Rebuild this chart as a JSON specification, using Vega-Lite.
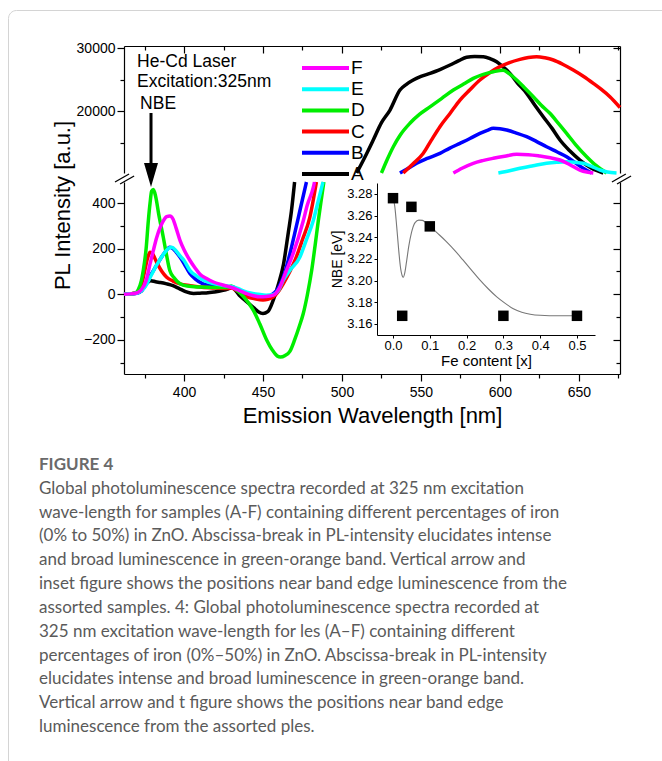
{
  "$schema": "https://vega.github.io/schema/vega-lite/v6.json",
  "width": 684,
  "height": 781,
  "autosize": {"type": "none"},
  "padding": {"left": 8, "top": 10, "right": -30, "bottom": -30},
  "background": "white",
  "config": {
    "view": {"stroke": "#d4d4d4", "cornerRadius": 8, "strokeWidth": 1},
    "font": "Liberation Sans",
    "axis": {"grid": false, "domainColor": "black", "tickColor": "black", "labelColor": "black", "titleColor": "black", "labelFont": "Liberation Sans", "titleFont": "Liberation Sans", "titleFontWeight": "normal", "labelFlush": false, "labelOverlap": false, "domainWidth": 1.2, "tickWidth": 1.2}
  },
  "datasets": {
    "low": [
      {"s":"A","wl":362,"v":0},{"s":"A","wl":366,"v":2},{"s":"A","wl":370,"v":6},{"s":"A","wl":373,"v":15},{"s":"A","wl":375,"v":35},{"s":"A","wl":377,"v":52},{"s":"A","wl":379,"v":60},{"s":"A","wl":382,"v":55},{"s":"A","wl":385,"v":52},{"s":"A","wl":389,"v":46},{"s":"A","wl":393,"v":38},{"s":"A","wl":397,"v":25},{"s":"A","wl":401,"v":12},{"s":"A","wl":406,"v":4},{"s":"A","wl":410,"v":5},{"s":"A","wl":414,"v":6},{"s":"A","wl":419,"v":10},{"s":"A","wl":424,"v":16},{"s":"A","wl":428,"v":24},{"s":"A","wl":430,"v":30},{"s":"A","wl":432,"v":22},{"s":"A","wl":435,"v":-4},{"s":"A","wl":438,"v":-22},{"s":"A","wl":441,"v":-40},{"s":"A","wl":444,"v":-58},{"s":"A","wl":447,"v":-76},{"s":"A","wl":450,"v":-84},{"s":"A","wl":453,"v":-76},{"s":"A","wl":456.5,"v":-25},{"s":"A","wl":460,"v":50},{"s":"A","wl":463,"v":133},{"s":"A","wl":466,"v":270},{"s":"A","wl":468,"v":365},{"s":"A","wl":470,"v":492},
      {"s":"B","wl":362,"v":0},{"s":"B","wl":366,"v":2},{"s":"B","wl":370,"v":5},{"s":"B","wl":373,"v":15},{"s":"B","wl":376,"v":45},{"s":"B","wl":379,"v":85},{"s":"B","wl":382,"v":120},{"s":"B","wl":385,"v":155},{"s":"B","wl":388,"v":185},{"s":"B","wl":391,"v":206},{"s":"B","wl":393,"v":200},{"s":"B","wl":395,"v":185},{"s":"B","wl":397.5,"v":162},{"s":"B","wl":400,"v":135},{"s":"B","wl":403.8,"v":90},{"s":"B","wl":407,"v":68},{"s":"B","wl":412,"v":46},{"s":"B","wl":417,"v":38},{"s":"B","wl":423,"v":32},{"s":"B","wl":428,"v":30},{"s":"B","wl":431,"v":32},{"s":"B","wl":434,"v":20},{"s":"B","wl":437,"v":5},{"s":"B","wl":440,"v":-4},{"s":"B","wl":444,"v":-12},{"s":"B","wl":448,"v":-19},{"s":"B","wl":452,"v":-14},{"s":"B","wl":456.5,"v":3},{"s":"B","wl":459,"v":20},{"s":"B","wl":461,"v":45},{"s":"B","wl":464,"v":100},{"s":"B","wl":467,"v":177},{"s":"B","wl":470,"v":265},{"s":"B","wl":473.3,"v":365},{"s":"B","wl":477.5,"v":492},
      {"s":"C","wl":362,"v":0},{"s":"C","wl":366,"v":2},{"s":"C","wl":370,"v":8},{"s":"C","wl":373,"v":40},{"s":"C","wl":375,"v":100},{"s":"C","wl":377,"v":160},{"s":"C","wl":378.5,"v":184},{"s":"C","wl":380,"v":178},{"s":"C","wl":382.7,"v":140},{"s":"C","wl":386,"v":100},{"s":"C","wl":389,"v":75},{"s":"C","wl":393,"v":58},{"s":"C","wl":397.5,"v":46},{"s":"C","wl":404,"v":38},{"s":"C","wl":410,"v":32},{"s":"C","wl":418,"v":28},{"s":"C","wl":427,"v":25},{"s":"C","wl":430,"v":28},{"s":"C","wl":433,"v":18},{"s":"C","wl":437,"v":0},{"s":"C","wl":440,"v":-11},{"s":"C","wl":445,"v":-20},{"s":"C","wl":450,"v":-25},{"s":"C","wl":453,"v":-22},{"s":"C","wl":456.5,"v":-11},{"s":"C","wl":460,"v":15},{"s":"C","wl":462.8,"v":46},{"s":"C","wl":467,"v":100},{"s":"C","wl":471,"v":162},{"s":"C","wl":475,"v":240},{"s":"C","wl":479.6,"v":336},{"s":"C","wl":483.8,"v":492},
      {"s":"D","wl":362,"v":0},{"s":"D","wl":366,"v":2},{"s":"D","wl":369,"v":5},{"s":"D","wl":371,"v":20},{"s":"D","wl":373,"v":60},{"s":"D","wl":374.2,"v":104},{"s":"D","wl":376,"v":200},{"s":"D","wl":377.4,"v":322},{"s":"D","wl":378.5,"v":400},{"s":"D","wl":379.5,"v":452},{"s":"D","wl":380.6,"v":459},{"s":"D","wl":382,"v":430},{"s":"D","wl":384,"v":350},{"s":"D","wl":386.9,"v":249},{"s":"D","wl":389,"v":170},{"s":"D","wl":391,"v":104},{"s":"D","wl":394,"v":70},{"s":"D","wl":397.5,"v":46},{"s":"D","wl":402,"v":36},{"s":"D","wl":410,"v":32},{"s":"D","wl":420,"v":30},{"s":"D","wl":427,"v":30},{"s":"D","wl":430,"v":36},{"s":"D","wl":433,"v":20},{"s":"D","wl":437,"v":-5},{"s":"D","wl":440.5,"v":-35},{"s":"D","wl":443.9,"v":-70},{"s":"D","wl":448,"v":-130},{"s":"D","wl":452.3,"v":-200},{"s":"D","wl":456,"v":-245},{"s":"D","wl":459,"v":-270},{"s":"D","wl":461,"v":-275},{"s":"D","wl":464,"v":-268},{"s":"D","wl":467,"v":-250},{"s":"D","wl":470,"v":-200},{"s":"D","wl":473,"v":-140},{"s":"D","wl":475.5,"v":-84},{"s":"D","wl":478,"v":-5},{"s":"D","wl":480.8,"v":104},{"s":"D","wl":483,"v":215},{"s":"D","wl":485,"v":322},{"s":"D","wl":487,"v":420},{"s":"D","wl":488.5,"v":492},
      {"s":"E","wl":362,"v":0},{"s":"E","wl":366,"v":2},{"s":"E","wl":370,"v":5},{"s":"E","wl":373,"v":15},{"s":"E","wl":376,"v":40},{"s":"E","wl":379,"v":80},{"s":"E","wl":382,"v":120},{"s":"E","wl":385,"v":155},{"s":"E","wl":388,"v":185},{"s":"E","wl":390.5,"v":203},{"s":"E","wl":392.2,"v":206},{"s":"E","wl":395,"v":190},{"s":"E","wl":397.5,"v":168},{"s":"E","wl":400,"v":148},{"s":"E","wl":403.8,"v":104},{"s":"E","wl":408,"v":80},{"s":"E","wl":413,"v":60},{"s":"E","wl":418,"v":48},{"s":"E","wl":424,"v":40},{"s":"E","wl":430,"v":34},{"s":"E","wl":434,"v":26},{"s":"E","wl":438,"v":14},{"s":"E","wl":442,"v":6},{"s":"E","wl":447,"v":0},{"s":"E","wl":452,"v":-4},{"s":"E","wl":456,"v":-2},{"s":"E","wl":460,"v":20},{"s":"E","wl":462.8,"v":61},{"s":"E","wl":467,"v":105},{"s":"E","wl":473.3,"v":162},{"s":"E","wl":477,"v":230},{"s":"E","wl":481.8,"v":322},{"s":"E","wl":485,"v":410},{"s":"E","wl":488,"v":492},
      {"s":"F","wl":362,"v":0},{"s":"F","wl":366,"v":2},{"s":"F","wl":370,"v":6},{"s":"F","wl":373,"v":20},{"s":"F","wl":376,"v":60},{"s":"F","wl":378.5,"v":133},{"s":"F","wl":380.5,"v":190},{"s":"F","wl":382.7,"v":249},{"s":"F","wl":385,"v":295},{"s":"F","wl":386.9,"v":322},{"s":"F","wl":389,"v":340},{"s":"F","wl":391.1,"v":343},{"s":"F","wl":393,"v":330},{"s":"F","wl":395,"v":290},{"s":"F","wl":397.5,"v":235},{"s":"F","wl":400,"v":195},{"s":"F","wl":403.8,"v":148},{"s":"F","wl":407,"v":115},{"s":"F","wl":410.1,"v":88},{"s":"F","wl":414,"v":70},{"s":"F","wl":418.6,"v":54},{"s":"F","wl":424,"v":42},{"s":"F","wl":429.1,"v":32},{"s":"F","wl":434,"v":20},{"s":"F","wl":439.7,"v":3},{"s":"F","wl":444,"v":-6},{"s":"F","wl":448,"v":-11},{"s":"F","wl":452,"v":-10},{"s":"F","wl":456.5,"v":-4},{"s":"F","wl":460.7,"v":32},{"s":"F","wl":464,"v":90},{"s":"F","wl":469,"v":177},{"s":"F","wl":475.5,"v":322},{"s":"F","wl":478,"v":390},{"s":"F","wl":481.8,"v":467},{"s":"F","wl":482.6,"v":492}
    ],
    "high": [
      {"s":"A","wl":509.3,"v":10250},{"s":"A","wl":514,"v":12500},{"s":"A","wl":519.8,"v":15464},{"s":"A","wl":525,"v":18200},{"s":"A","wl":530.4,"v":20200},{"s":"A","wl":536.7,"v":23364},{"s":"A","wl":541,"v":24300},{"s":"A","wl":545.1,"v":24944},{"s":"A","wl":550,"v":25500},{"s":"A","wl":555.7,"v":26000},{"s":"A","wl":562,"v":26600},{"s":"A","wl":568.4,"v":27314},{"s":"A","wl":574,"v":28000},{"s":"A","wl":578.9,"v":28530},{"s":"A","wl":584,"v":28650},{"s":"A","wl":589.5,"v":28630},{"s":"A","wl":594,"v":28300},{"s":"A","wl":597.9,"v":27840},{"s":"A","wl":602,"v":27000},{"s":"A","wl":606.3,"v":26000},{"s":"A","wl":611,"v":24500},{"s":"A","wl":616.9,"v":22840},{"s":"A","wl":622,"v":21000},{"s":"A","wl":627.4,"v":19150},{"s":"A","wl":633,"v":17300},{"s":"A","wl":638,"v":15460},{"s":"A","wl":644,"v":13800},{"s":"A","wl":650.6,"v":12300},{"s":"A","wl":658,"v":11000},{"s":"A","wl":665.4,"v":10250},
      {"s":"B","wl":536.7,"v":10250},{"s":"B","wl":542,"v":11000},{"s":"B","wl":547.3,"v":11780},{"s":"B","wl":554,"v":12550},{"s":"B","wl":562,"v":13360},{"s":"B","wl":568,"v":14150},{"s":"B","wl":574.7,"v":14940},{"s":"B","wl":581,"v":15700},{"s":"B","wl":587.3,"v":16520},{"s":"B","wl":592,"v":17000},{"s":"B","wl":595.8,"v":17310},{"s":"B","wl":600,"v":17250},{"s":"B","wl":604.2,"v":17044},{"s":"B","wl":610,"v":16600},{"s":"B","wl":616.9,"v":15990},{"s":"B","wl":623,"v":15250},{"s":"B","wl":629.5,"v":14400},{"s":"B","wl":636,"v":13600},{"s":"B","wl":642.2,"v":12830},{"s":"B","wl":647.5,"v":11900},{"s":"B","wl":652.7,"v":11000},{"s":"B","wl":658,"v":10250},
      {"s":"C","wl":538.8,"v":10250},{"s":"C","wl":545,"v":11700},{"s":"C","wl":551.5,"v":13360},{"s":"C","wl":556.5,"v":15400},{"s":"C","wl":562,"v":17570},{"s":"C","wl":568.5,"v":19700},{"s":"C","wl":574.7,"v":21780},{"s":"C","wl":581,"v":23400},{"s":"C","wl":587.3,"v":24944},{"s":"C","wl":593.5,"v":26100},{"s":"C","wl":600,"v":27050},{"s":"C","wl":606,"v":27700},{"s":"C","wl":612.7,"v":28210},{"s":"C","wl":618,"v":28500},{"s":"C","wl":623.2,"v":28630},{"s":"C","wl":628.5,"v":28450},{"s":"C","wl":633.8,"v":28100},{"s":"C","wl":640,"v":27400},{"s":"C","wl":646.4,"v":26524},{"s":"C","wl":653,"v":25500},{"s":"C","wl":659.1,"v":24420},{"s":"C","wl":664,"v":23500},{"s":"C","wl":669.6,"v":22310},{"s":"C","wl":676,"v":20600},
      {"s":"D","wl":525,"v":10250},{"s":"D","wl":528.5,"v":12300},{"s":"D","wl":532.5,"v":14400},{"s":"D","wl":537,"v":16300},{"s":"D","wl":543,"v":18100},{"s":"D","wl":549,"v":19500},{"s":"D","wl":555.7,"v":20700},{"s":"D","wl":563,"v":22000},{"s":"D","wl":570.5,"v":23360},{"s":"D","wl":577,"v":24300},{"s":"D","wl":583.1,"v":25200},{"s":"D","wl":589,"v":25800},{"s":"D","wl":595.8,"v":26250},{"s":"D","wl":602.1,"v":26500},{"s":"D","wl":606,"v":25900},{"s":"D","wl":610.6,"v":24944},{"s":"D","wl":616,"v":23600},{"s":"D","wl":621.1,"v":22300},{"s":"D","wl":626,"v":21000},{"s":"D","wl":631.6,"v":19680},{"s":"D","wl":637,"v":18100},{"s":"D","wl":642.2,"v":16520},{"s":"D","wl":648,"v":14700},{"s":"D","wl":654.9,"v":12830},{"s":"D","wl":661,"v":11400},{"s":"D","wl":667.5,"v":10250},
      {"s":"E","wl":599,"v":10250},{"s":"E","wl":606,"v":10600},{"s":"E","wl":612.7,"v":11000},{"s":"E","wl":621,"v":11400},{"s":"E","wl":629.5,"v":11780},{"s":"E","wl":636,"v":11950},{"s":"E","wl":642.2,"v":12040},{"s":"E","wl":647.5,"v":11950},{"s":"E","wl":652.7,"v":11780},{"s":"E","wl":658,"v":11300},{"s":"E","wl":663.3,"v":10720},{"s":"E","wl":668,"v":10400},{"s":"E","wl":673.8,"v":10250},
      {"s":"F","wl":570.5,"v":10250},{"s":"F","wl":576,"v":11000},{"s":"F","wl":583.1,"v":11780},{"s":"F","wl":589,"v":12200},{"s":"F","wl":595.8,"v":12570},{"s":"F","wl":603,"v":12900},{"s":"F","wl":610.6,"v":13200},{"s":"F","wl":618,"v":13150},{"s":"F","wl":625.3,"v":12930},{"s":"F","wl":632,"v":12650},{"s":"F","wl":638,"v":12300},{"s":"F","wl":644,"v":11600},{"s":"F","wl":650.6,"v":10720},{"s":"F","wl":655,"v":10400},{"s":"F","wl":659.1,"v":10250}
    ],
    "fit": [
      {"fe":0.0,"e":3.2775},{"fe":0.005,"e":3.268},{"fe":0.01,"e":3.25},{"fe":0.015,"e":3.23},{"fe":0.02,"e":3.213},{"fe":0.025,"e":3.2045},{"fe":0.028,"e":3.203},{"fe":0.032,"e":3.207},{"fe":0.037,"e":3.218},{"fe":0.043,"e":3.232},{"fe":0.05,"e":3.244},{"fe":0.06,"e":3.2535},{"fe":0.07,"e":3.2558},{"fe":0.08,"e":3.2555},{"fe":0.09,"e":3.2532},{"fe":0.1,"e":3.2503},{"fe":0.12,"e":3.244},{"fe":0.145,"e":3.236},{"fe":0.17,"e":3.227},{"fe":0.19,"e":3.219},{"fe":0.215,"e":3.209},{"fe":0.236,"e":3.2006},{"fe":0.26,"e":3.192},{"fe":0.282,"e":3.185},{"fe":0.305,"e":3.179},{"fe":0.327,"e":3.174},{"fe":0.35,"e":3.1708},{"fe":0.373,"e":3.1690},{"fe":0.4,"e":3.168},{"fe":0.45,"e":3.1675},{"fe":0.5,"e":3.1675}
    ],
    "nbe": [
      {"fe":0.0,"e":3.276},{"fe":0.025,"e":3.1675},{"fe":0.05,"e":3.268},{"fe":0.1,"e":3.250},{"fe":0.3,"e":3.1675},{"fe":0.5,"e":3.1675}
    ],
    "notes": [
      {"t":"He-Cd Laser","wl":370.3,"v":27788},
      {"t":"Excitation:325nm","wl":370.3,"v":24628},
      {"t":"NBE","wl":372.2,"v":21152}
    ],
    "brk": [
      {"x1":356.3,"x2":365.2,"y1":8828,"y2":10092},
      {"x1":359.5,"x2":368.4,"y1":8512,"y2":9776},
      {"x1":670.9,"x2":679.7,"y1":8828,"y2":10092},
      {"x1":674.1,"x2":683.0,"y1":8512,"y2":9776}
    ],
    "cap": [
      {"i":1,"t":"Global photoluminescence spectra recorded at 325 nm excitation"},
      {"i":2,"t":"wave-length for samples (A-F) containing different percentages of iron"},
      {"i":3,"t":"(0% to 50%) in ZnO. Abscissa-break in PL-intensity elucidates intense"},
      {"i":4,"t":"and broad luminescence in green-orange band. Vertical arrow and"},
      {"i":5,"t":"inset figure shows the positions near band edge luminescence from the"},
      {"i":6,"t":"assorted samples. 4: Global photoluminescence spectra recorded at"},
      {"i":7,"t":"325 nm excitation wave-length for les (A–F) containing different"},
      {"i":8,"t":"percentages of iron (0%–50%) in ZnO. Abscissa-break in PL-intensity"},
      {"i":9,"t":"elucidates intense and broad luminescence in green-orange band."},
      {"i":10,"t":"Vertical arrow and t figure shows the positions near band edge"},
      {"i":11,"t":"luminescence from the assorted ples."}
    ],
    "head": [{"i":0,"t":"FIGURE 4"}]
  },
  "resolve": {"scale": {"x": "independent", "y": "independent"}},
  "layer": [
    {
      "data": {"name": "low"},
      "mark": {"type": "line", "strokeWidth": 3.5, "interpolate": "monotone"},
      "encoding": {
        "x": {"field": "wl", "type": "quantitative", "scale": {"domain": [362, 676], "range": [116, 612], "nice": false, "zero": false},
          "axis": {"orient": "bottom", "offset": -417, "values": [375,400,425,450,475,500,525,550,575,600,625,650,675], "labelExpr": "datum.value % 50 === 0 ? datum.label : ''", "tickSize": {"condition": {"test": "datum.value % 50 === 0", "value": 7}, "value": 4}, "labelFontSize": 14, "labelPadding": 4, "title": "Emission Wavelength [nm]", "titleFontSize": 22, "titleY": 41, "titleBaseline": "middle"}},
        "y": {"field": "v", "type": "quantitative", "scale": {"domain": [-349, 492], "range": [364, 172], "nice": false, "zero": false},
          "axis": {"orient": "left", "offset": -116, "values": [-300,-200,-100,0,100,200,300,400], "labelExpr": "datum.value % 200 === 0 ? datum.label : ''", "tickSize": {"condition": {"test": "datum.value % 200 === 0", "value": 7}, "value": 4}, "labelFontSize": 14, "labelPadding": 2, "title": "PL Intensity [a.u.]", "titleFontSize": 22, "titleX": -62, "titleY": 195, "titleBaseline": "middle", "titleAngle": -90}},
        "color": {"field": "s", "type": "nominal", "scale": {"domain": ["F","E","D","C","B","A"], "range": ["#ff00ff","#00ffff","#00ee00","#ff0000","#0000ff","#000000"]},
          "legend": {"orient": "none", "legendX": 292, "legendY": 47.5, "title": null, "symbolType": "stroke", "symbolSize": 2209, "symbolStrokeWidth": 4, "clipHeight": 21, "labelFontSize": 19, "labelFont": "Liberation Sans", "labelColor": "black", "labelOffset": 0, "rowPadding": 0.2, "padding": 0}}
      }
    },
    {
      "data": {"name": "low"},
      "mark": {"type": "point", "opacity": 0},
      "encoding": {
        "x": {"field": "wl", "type": "quantitative", "scale": {"domain": [362, 676], "range": [116, 612], "nice": false, "zero": false}, "axis": null},
        "y": {"field": "v", "type": "quantitative", "scale": {"domain": [-349, 492], "range": [364, 172], "nice": false, "zero": false},
          "axis": {"orient": "right", "offset": -72, "values": [-300,-200,-100,0,100,200,300,400], "labels": false, "tickSize": {"condition": {"test": "datum.value % 200 === 0", "value": -7}, "value": -4}, "title": null}}
      }
    },
    {
      "data": {"name": "high"},
      "mark": {"type": "line", "strokeWidth": 3.5, "interpolate": "monotone"},
      "encoding": {
        "x": {"field": "wl", "type": "quantitative", "scale": {"domain": [362, 676], "range": [116, 612], "nice": false, "zero": false},
          "axis": {"orient": "top", "offset": -36, "values": [375,400,425,450,475,500,525,550,575,600,625,650,675], "labels": false, "tickSize": {"condition": {"test": "datum.value % 50 === 0", "value": -7}, "value": -4}, "title": null}},
        "y": {"field": "v", "type": "quantitative", "scale": {"domain": [10250, 30316], "range": [163, 36], "nice": false, "zero": false},
          "axis": {"orient": "left", "offset": -116, "values": [15000,20000,25000,30000], "format": "d", "labelExpr": "datum.value % 10000 === 0 ? datum.label : ''", "tickSize": {"condition": {"test": "datum.value % 10000 === 0", "value": 7}, "value": 4}, "labelFontSize": 14, "labelPadding": 2, "title": null}},
        "color": {"field": "s", "type": "nominal", "scale": {"domain": ["F","E","D","C","B","A"], "range": ["#ff00ff","#00ffff","#00ee00","#ff0000","#0000ff","#000000"]},
          "legend": {"orient": "none", "legendX": 292, "legendY": 47.5, "title": null, "symbolType": "stroke", "symbolSize": 2209, "symbolStrokeWidth": 4, "clipHeight": 21, "labelFontSize": 19, "labelFont": "Liberation Sans", "labelColor": "black", "labelOffset": 0, "rowPadding": 0.2, "padding": 0}}
      }
    },
    {
      "data": {"name": "high"},
      "mark": {"type": "point", "opacity": 0},
      "encoding": {
        "x": {"field": "wl", "type": "quantitative", "scale": {"domain": [362, 676], "range": [116, 612], "nice": false, "zero": false}, "axis": null},
        "y": {"field": "v", "type": "quantitative", "scale": {"domain": [10250, 30316], "range": [163, 36], "nice": false, "zero": false},
          "axis": {"orient": "right", "offset": -72, "values": [15000,20000,25000,30000], "labels": false, "tickSize": {"condition": {"test": "datum.value % 10000 === 0", "value": -7}, "value": -4}, "title": null}}
      }
    },
    {
      "data": {"name": "notes"},
      "mark": {"type": "text", "align": "left", "baseline": "middle", "fontSize": 17.5, "font": "Liberation Sans", "color": "black"},
      "encoding": {
        "x": {"field": "wl", "type": "quantitative", "scale": {"domain": [362, 676], "range": [116, 612], "nice": false, "zero": false}, "axis": null},
        "y": {"field": "v", "type": "quantitative", "scale": {"domain": [10250, 30316], "range": [163, 36], "nice": false, "zero": false}, "axis": null},
        "text": {"field": "t"}
      }
    },
    {
      "data": {"values": [{}]},
      "mark": {"type": "rule", "strokeWidth": 3, "color": "black"},
      "encoding": {
        "x": {"datum": 379.1, "type": "quantitative", "scale": {"domain": [362, 676], "range": [116, 612], "nice": false, "zero": false}, "axis": null},
        "y": {"datum": 19730, "type": "quantitative", "scale": {"domain": [10250, 30316], "range": [163, 36], "nice": false, "zero": false}, "axis": null},
        "y2": {"datum": 11514}
      }
    },
    {
      "data": {"values": [{}]},
      "mark": {"type": "point", "shape": "M-1,-1.7L1,-1.7L0,1.7Z", "size": 196, "filled": true, "color": "black", "opacity": 1},
      "encoding": {
        "x": {"datum": 379.1, "type": "quantitative", "scale": {"domain": [362, 676], "range": [116, 612], "nice": false, "zero": false}, "axis": null},
        "y": {"datum": 9934, "type": "quantitative", "scale": {"domain": [10250, 30316], "range": [163, 36], "nice": false, "zero": false}, "axis": null}
      }
    },
    {
      "data": {"name": "brk"},
      "mark": {"type": "rule", "strokeWidth": 1.3, "color": "black"},
      "encoding": {
        "x": {"field": "x1", "type": "quantitative", "scale": {"domain": [362, 676], "range": [116, 612], "nice": false, "zero": false}, "axis": null},
        "x2": {"field": "x2"},
        "y": {"field": "y1", "type": "quantitative", "scale": {"domain": [10250, 30316], "range": [163, 36], "nice": false, "zero": false}, "axis": null},
        "y2": {"field": "y2"}
      }
    },
    {
      "data": {"name": "fit"},
      "mark": {"type": "line", "strokeWidth": 1.1, "color": "#777777", "interpolate": "monotone"},
      "encoding": {
        "x": {"field": "fe", "type": "quantitative", "scale": {"domain": [-0.0435, 0.549], "range": [369, 587], "nice": false, "zero": false},
          "axis": {"orient": "bottom", "offset": -456, "values": [0, 0.1, 0.2, 0.3, 0.4, 0.5], "format": ".1f", "labelFontSize": 13, "tickSize": 3, "labelPadding": 1, "domainWidth": 1, "tickWidth": 1, "title": "Fe content [x]", "titleFontSize": 15, "titlePadding": 1}},
        "y": {"field": "e", "type": "quantitative", "scale": {"domain": [3.1498, 3.29], "range": [325, 173], "nice": false, "zero": false},
          "axis": {"orient": "left", "offset": -369, "values": [3.16, 3.18, 3.2, 3.22, 3.24, 3.26, 3.28], "format": ".2f", "labelFontSize": 13, "tickSize": 3, "labelPadding": 2, "domainWidth": 1, "tickWidth": 1, "title": "NBE [eV]", "titleFontSize": 14, "titlePadding": 2}}
      }
    },
    {
      "data": {"name": "nbe"},
      "mark": {"type": "point", "shape": "square", "size": 110, "filled": true, "color": "black", "opacity": 1},
      "encoding": {
        "x": {"field": "fe", "type": "quantitative", "scale": {"domain": [-0.0435, 0.549], "range": [369, 587], "nice": false, "zero": false}, "axis": null},
        "y": {"field": "e", "type": "quantitative", "scale": {"domain": [3.1498, 3.29], "range": [325, 173], "nice": false, "zero": false}, "axis": null}
      }
    },
    {
      "data": {"name": "head"},
      "mark": {"type": "text", "align": "left", "baseline": "middle", "fontSize": 17, "font": "Lato", "fontWeight": "bold", "color": "#6a6a6a"},
      "encoding": {
        "x": {"datum": 0, "type": "quantitative", "scale": {"domain": [0, 1], "range": [31, 600]}, "axis": null},
        "y": {"field": "i", "type": "quantitative", "scale": {"domain": [0, 11], "range": [455, 717], "nice": false, "zero": false}, "axis": null},
        "text": {"field": "t"}
      }
    },
    {
      "data": {"name": "cap"},
      "mark": {"type": "text", "align": "left", "baseline": "middle", "fontSize": 17, "font": "Lato", "color": "#5a5a5a"},
      "encoding": {
        "x": {"datum": 0, "type": "quantitative", "scale": {"domain": [0, 1], "range": [31, 600]}, "axis": null},
        "y": {"field": "i", "type": "quantitative", "scale": {"domain": [0, 11], "range": [455, 717], "nice": false, "zero": false}, "axis": null},
        "text": {"field": "t"}
      }
    }
  ]
}
